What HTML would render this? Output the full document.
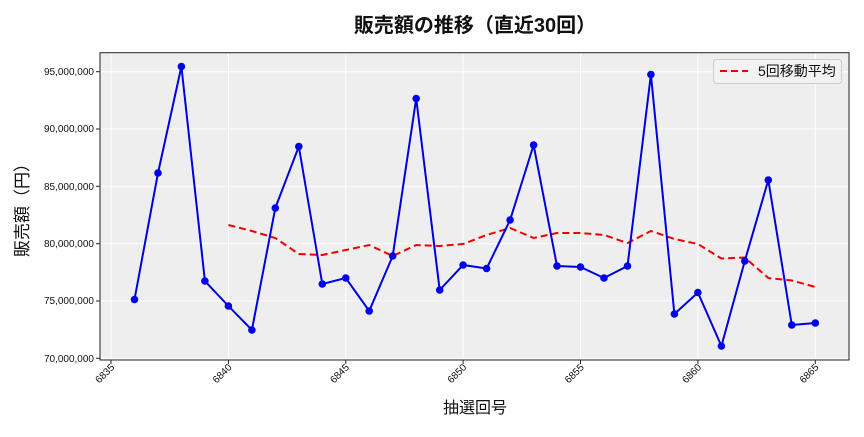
<!DOCTYPE html>
<html><head><meta charset="utf-8"><style>
body{margin:0;background:#fff;}
svg text{font-family:"Liberation Sans","Noto Sans CJK JP",sans-serif;}
</style></head><body>
<svg width="864" height="432" xmlns="http://www.w3.org/2000/svg">
<rect width="864" height="432" fill="#fff"/>
<text x="475" y="32" text-anchor="middle" font-size="20" font-weight="bold" fill="#111">販売額の推移（直近30回）</text>
<rect x="100" y="52.7" width="749" height="307.3" fill="#ebebeb" fill-opacity="0.85"/>
<g stroke="#fff" stroke-width="1">
<line x1="100" x2="849" y1="71.7" y2="71.7"/><line x1="100" x2="849" y1="129" y2="129"/><line x1="100" x2="849" y1="186.3" y2="186.3"/><line x1="100" x2="849" y1="243.7" y2="243.7"/><line x1="100" x2="849" y1="301" y2="301"/><line x1="100" x2="849" y1="358.3" y2="358.3"/>
<line y1="52.7" y2="360" x1="111" x2="111"/><line y1="52.7" y2="360" x1="228.4" x2="228.4"/><line y1="52.7" y2="360" x1="345.8" x2="345.8"/><line y1="52.7" y2="360" x1="463.1" x2="463.1"/><line y1="52.7" y2="360" x1="580.5" x2="580.5"/><line y1="52.7" y2="360" x1="697.9" x2="697.9"/><line y1="52.7" y2="360" x1="815.3" x2="815.3"/>
</g>
<rect x="100" y="52.7" width="749" height="307.3" fill="none" stroke="#222" stroke-width="1"/>
<g font-size="10" fill="#111" text-anchor="end">
<text x="94" y="75">95,000,000</text><text x="94" y="132">90,000,000</text><text x="94" y="190">85,000,000</text><text x="94" y="247">80,000,000</text><text x="94" y="304">75,000,000</text><text x="94" y="362">70,000,000</text>
</g>
<g stroke="#222"><line x1="96" x2="100" y1="71.7" y2="71.7"/><line x1="96" x2="100" y1="129" y2="129"/><line x1="96" x2="100" y1="186.3" y2="186.3"/><line x1="96" x2="100" y1="243.7" y2="243.7"/><line x1="96" x2="100" y1="301" y2="301"/><line x1="96" x2="100" y1="358.3" y2="358.3"/>
<line y1="360" y2="364" x1="111" x2="111"/><line y1="360" y2="364" x1="228.4" x2="228.4"/><line y1="360" y2="364" x1="345.8" x2="345.8"/><line y1="360" y2="364" x1="463.1" x2="463.1"/><line y1="360" y2="364" x1="580.5" x2="580.5"/><line y1="360" y2="364" x1="697.9" x2="697.9"/><line y1="360" y2="364" x1="815.3" x2="815.3"/></g>
<g font-size="10" fill="#111" text-anchor="end">
<text transform="translate(115,368) rotate(-45)">6835</text><text transform="translate(232.4,368) rotate(-45)">6840</text><text transform="translate(349.8,368) rotate(-45)">6845</text><text transform="translate(467.1,368) rotate(-45)">6850</text><text transform="translate(584.5,368) rotate(-45)">6855</text><text transform="translate(701.9,368) rotate(-45)">6860</text><text transform="translate(819.3,368) rotate(-45)">6865</text>
</g>
<text x="475" y="413" text-anchor="middle" font-size="16" fill="#111">抽選回号</text>
<text transform="translate(28,206) rotate(-90)" text-anchor="middle" font-size="17" fill="#111">販売額（円）</text>
<polyline fill="none" stroke="#ee0000" stroke-width="2" stroke-dasharray="7,4" points="228.4,225 251.9,231 275.3,238 298.8,254 322.3,255 345.8,250 369.2,245 392.7,256 416.2,245 439.7,246 463.1,244 486.6,235 510.1,228 533.6,238 557,233 580.5,233 604,235 627.5,243 650.9,231 674.4,239 697.9,244 721.4,258.5 744.8,257.5 768.3,278 791.8,280.5 815.3,287"/>
<polyline fill="none" stroke="#0000dd" stroke-width="2" points="134.5,299.5 158,173 181.4,66.5 204.9,281 228.4,306 251.9,330 275.3,208 298.8,146.5 322.3,284 345.8,278 369.2,311 392.7,256 416.2,98.5 439.7,290 463.1,265 486.6,268.5 510.1,220 533.6,145 557,266 580.5,267 604,278 627.5,266 650.9,74.5 674.4,314 697.9,292.5 721.4,346 744.8,261 768.3,180 791.8,325 815.3,323"/>
<g fill="#0000ee">
<circle cx="134.5" cy="299.5" r="3.8"/><circle cx="158" cy="173" r="3.8"/><circle cx="181.4" cy="66.5" r="3.8"/><circle cx="204.9" cy="281" r="3.8"/><circle cx="228.4" cy="306" r="3.8"/><circle cx="251.9" cy="330" r="3.8"/><circle cx="275.3" cy="208" r="3.8"/><circle cx="298.8" cy="146.5" r="3.8"/><circle cx="322.3" cy="284" r="3.8"/><circle cx="345.8" cy="278" r="3.8"/><circle cx="369.2" cy="311" r="3.8"/><circle cx="392.7" cy="256" r="3.8"/><circle cx="416.2" cy="98.5" r="3.8"/><circle cx="439.7" cy="290" r="3.8"/><circle cx="463.1" cy="265" r="3.8"/><circle cx="486.6" cy="268.5" r="3.8"/><circle cx="510.1" cy="220" r="3.8"/><circle cx="533.6" cy="145" r="3.8"/><circle cx="557" cy="266" r="3.8"/><circle cx="580.5" cy="267" r="3.8"/><circle cx="604" cy="278" r="3.8"/><circle cx="627.5" cy="266" r="3.8"/><circle cx="650.9" cy="74.5" r="3.8"/><circle cx="674.4" cy="314" r="3.8"/><circle cx="697.9" cy="292.5" r="3.8"/><circle cx="721.4" cy="346" r="3.8"/><circle cx="744.8" cy="261" r="3.8"/><circle cx="768.3" cy="180" r="3.8"/><circle cx="791.8" cy="325" r="3.8"/><circle cx="815.3" cy="323" r="3.8"/>
</g>
<rect x="713.5" y="59.5" width="128" height="24" rx="3" fill="#f2f2f2" stroke="#cccccc"/>
<line x1="720" x2="748" y1="71" y2="71" stroke="#ee0000" stroke-width="2" stroke-dasharray="7,4"/>
<text x="758" y="76" font-size="14" fill="#111">5回移動平均</text>
</svg>
</body></html>
